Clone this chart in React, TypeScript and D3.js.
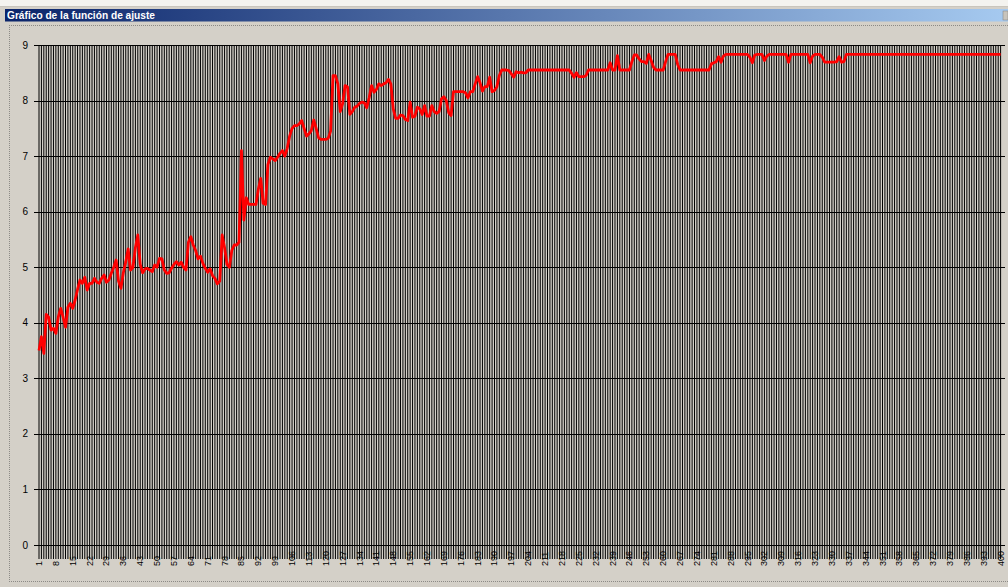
import React from 'react';
import * as d3 from 'd3';

const title = 'Gráfico de la función de ajuste';
const categories: number[] = d3.range(1, 401);
const xTickLabels: number[] = d3.range(1, 401, 7);
const yTicks: number[] = [0, 1, 2, 3, 4, 5, 6, 7, 8, 9];

const fitness: number[] = [
  3.5, 3.75, 3.45, 4.15, 4.1, 3.87, 3.9, 3.81, 4.1, 4.26,
  4.1, 3.92, 4.28, 4.35, 4.26, 4.41, 4.6, 4.77, 4.71, 4.82,
  4.59, 4.71, 4.71, 4.8, 4.73, 4.71, 4.8, 4.86, 4.73, 4.77,
  4.89, 5.0, 5.13, 4.75, 4.62, 4.9, 5.1, 5.33, 4.95, 5.0,
  5.35, 5.58, 5.05, 4.9, 4.97, 4.98, 4.95, 4.92, 5.04, 5.0,
  5.16, 5.15, 4.95, 4.89, 4.9, 4.98, 5.05, 5.1, 5.04, 5.09,
  5.0, 4.95, 5.45, 5.55, 5.4, 5.3, 5.15, 5.2, 5.07, 4.98,
  4.91, 4.97, 4.85, 4.8, 4.7, 4.75, 5.58, 5.35, 5.05, 5.0,
  5.3, 5.4, 5.4, 5.45, 7.1, 5.85, 6.25, 6.13, 6.13, 6.13,
  6.13, 6.4, 6.6, 6.15, 6.13, 6.85, 6.98, 6.95, 6.92, 6.98,
  7.05, 7.1, 7.0, 7.14, 7.36, 7.5, 7.55, 7.55, 7.58, 7.64,
  7.5, 7.36, 7.4, 7.46, 7.65, 7.5, 7.33, 7.3, 7.3, 7.3,
  7.32, 7.45, 8.45, 8.45, 8.3, 7.8, 7.95, 8.27, 8.25, 7.75,
  7.8, 7.88, 7.9, 7.95, 7.97, 7.96, 7.87, 8.05, 8.27, 8.15,
  8.2, 8.3, 8.27, 8.3, 8.32, 8.38, 8.3, 7.85, 7.68, 7.68,
  7.74, 7.73, 7.66, 7.64, 7.97, 7.7, 7.72, 7.88, 7.85, 7.75,
  7.91, 7.72, 7.72, 7.91, 7.8, 7.77, 7.8, 8.03, 8.07, 8.0,
  7.78, 7.73, 8.16, 8.16, 8.16, 8.16, 8.16, 8.14, 8.05, 8.16,
  8.16, 8.3, 8.43, 8.32, 8.17, 8.25, 8.25, 8.42, 8.16, 8.18,
  8.25, 8.45, 8.55, 8.55, 8.55, 8.54, 8.48, 8.42, 8.52, 8.5,
  8.51, 8.5, 8.5, 8.55, 8.55, 8.55, 8.55, 8.55, 8.55, 8.55,
  8.55, 8.55, 8.55, 8.55, 8.55, 8.55, 8.55, 8.55, 8.55, 8.55,
  8.55, 8.49, 8.42, 8.5, 8.43, 8.43, 8.43, 8.45, 8.55, 8.55,
  8.55, 8.55, 8.55, 8.55, 8.55, 8.55, 8.55, 8.68, 8.55, 8.55,
  8.81, 8.55, 8.55, 8.55, 8.55, 8.55, 8.7, 8.82, 8.82, 8.75,
  8.7, 8.7, 8.67, 8.83, 8.72, 8.6, 8.55, 8.55, 8.55, 8.55,
  8.7, 8.83, 8.83, 8.83, 8.83, 8.65, 8.55, 8.55, 8.55, 8.55,
  8.55, 8.55, 8.55, 8.55, 8.55, 8.55, 8.55, 8.55, 8.55, 8.66,
  8.68, 8.7, 8.79, 8.69, 8.8, 8.83, 8.83, 8.83, 8.83, 8.83,
  8.83, 8.83, 8.83, 8.83, 8.83, 8.78, 8.68, 8.82, 8.83, 8.83,
  8.83, 8.72, 8.8, 8.83, 8.83, 8.83, 8.83, 8.83, 8.83, 8.83,
  8.83, 8.69, 8.83, 8.83, 8.83, 8.83, 8.83, 8.83, 8.83, 8.83,
  8.68, 8.8, 8.83, 8.83, 8.83, 8.78, 8.69, 8.69, 8.69, 8.69,
  8.69, 8.7, 8.79, 8.69, 8.7, 8.83, 8.83, 8.83, 8.83, 8.83,
  8.83, 8.83, 8.83, 8.83, 8.83, 8.83, 8.83, 8.83, 8.83, 8.83,
  8.83, 8.83, 8.83, 8.83, 8.83, 8.83, 8.83, 8.83, 8.83, 8.83,
  8.83, 8.83, 8.83, 8.83, 8.83, 8.83, 8.83, 8.83, 8.83, 8.83,
  8.83, 8.83, 8.83, 8.83, 8.83, 8.83, 8.83, 8.83, 8.83, 8.83,
  8.83, 8.83, 8.83, 8.83, 8.83, 8.83, 8.83, 8.83, 8.83, 8.83,
  8.83, 8.83, 8.83, 8.83, 8.83, 8.83, 8.83, 8.83, 8.83, 8.83,
];

export default function App() {
  const W = 1008;
  const H = 587;
  const x = d3.scalePoint<number>().domain(categories).range([39, 1000.6]);
  const y = d3.scaleLinear().domain([0, 9]).range([545, 45]);
  const line = d3
    .line<number>()
    .x((_, i) => x(categories[i]) as number)
    .y((d) => y(d));

  const vPath = categories.map((c) => `M${x(c)},${y(9)}V559`).join('');
  const grey = '#d4d0c8';

  return (
    <svg
      width={W}
      height={H}
      style={{ position: 'absolute', left: 0, top: 0, display: 'block' }}
      fontFamily="'Liberation Sans', Arial, sans-serif"
    >
      <defs>
        <linearGradient id="tb" x1="0" x2="1" y1="0" y2="0">
          <stop offset="0" stopColor="#0a246a" />
          <stop offset="1" stopColor="#a6caf0" />
        </linearGradient>
      </defs>
      <rect x={0} y={0} width={W} height={H} fill={grey} />
      <rect x={0} y={0} width={W} height={6} fill="#f4f3ef" />
      <line x1={0} x2={W} y1={6.5} y2={6.5} stroke="#c9c5bd" />
      <rect x={5} y={9} width={W - 5} height={12.5} fill="url(#tb)" />
      <rect x={1003} y={11} width={5} height={9} fill="#c8c4bc" stroke="#808080" strokeWidth={0.5} />
      <text x={7} y={19} fill="#fff" fontWeight="bold" fontSize={11} textLength={148} lengthAdjust="spacingAndGlyphs">
        {title}
      </text>
      {/* dotted frame */}
      <g stroke="#8c8a86" strokeDasharray="1,1" strokeWidth={1}>
        <line x1={9} x2={W} y1={25.5} y2={25.5} />
        <line x1={9.5} x2={9.5} y1={25} y2={582} />
        <line x1={9} x2={W} y1={581.5} y2={581.5} />
      </g>
      {/* vertical category lines */}
      <path d={vPath} stroke="#000" strokeWidth={1} fill="none" />
      {/* horizontal grid lines */}
      <g>
        {yTicks.map((t) => (
          <g key={t}>
            <line x1={34} x2={1005} y1={Math.round(y(t)) + 0.5} y2={Math.round(y(t)) + 0.5} stroke="#000" strokeWidth={1} />
            <text x={28} y={y(t) + 3.5} textAnchor="end" fontSize={10} fill="#000">
              {t}
            </text>
          </g>
        ))}
      </g>
      {/* x labels */}
      <g fontSize={9} fill="#000">
        {xTickLabels.map((c) => (
          <text key={c} transform={`translate(${(x(c) as number) + 3},566) rotate(-90)`} textAnchor="start">
            {c}
          </text>
        ))}
      </g>
      {/* fitness line */}
      <path d={line(fitness) || ''} fill="none" stroke="#ff0000" strokeWidth={2.8} strokeLinejoin="round" />
    </svg>
  );
}
